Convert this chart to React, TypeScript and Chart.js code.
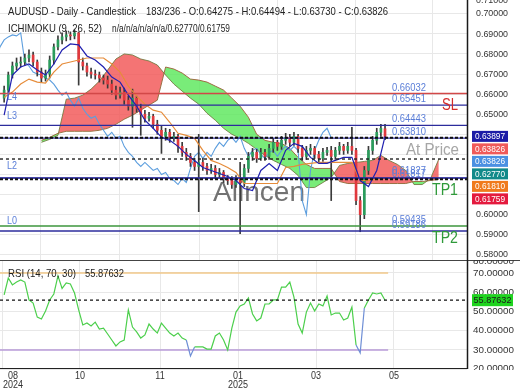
import React, { useEffect, useRef } from 'react';
import { Chart, registerables } from 'chart.js';

Chart.register(...registerables);

// ---------------- data ----------------
const VISIBLE_BARS = 225.6; // bars across the plot width
const CANDLE_FIRST_BAR = 2;
const CANDLE_STEP = 2;
const LINE_STEP = 4;
const CLOUD_FIRST_BAR = 20;
const ICHIMOKU_SHIFT = 26;

const monthTickBars = [1, 38.6, 77.3, 115, 152.7, 190.3];
const monthLabels = ['08', '10', '11', '01', '03', '05'];
const yearLabels = ['2024', '', '', '2025', '', ''];

const opens = [
  0.658, 0.662, 0.6695, 0.674, 0.6755, 0.676, 0.678, 0.6795, 0.676, 0.671,
  0.668, 0.670, 0.677, 0.6835, 0.687, 0.6885, 0.6895, 0.689, 0.6905, 0.676,
  0.674, 0.671, 0.670, 0.6695, 0.668, 0.667, 0.665, 0.662, 0.6595, 0.661,
  0.657, 0.654, 0.658, 0.653, 0.650, 0.648, 0.649, 0.645, 0.642, 0.639,
  0.641, 0.638, 0.639, 0.634, 0.631, 0.629, 0.626, 0.624, 0.626, 0.624,
  0.622, 0.623, 0.620, 0.621, 0.618, 0.617, 0.615, 0.618, 0.616, 0.623,
  0.629, 0.631, 0.628, 0.631, 0.629, 0.633, 0.636, 0.634, 0.637, 0.6385,
  0.636, 0.639, 0.633, 0.629, 0.632, 0.633, 0.630, 0.628, 0.631, 0.632,
  0.629, 0.632, 0.634, 0.632, 0.634, 0.632, 0.607, 0.600, 0.622, 0.632,
  0.637, 0.641, 0.64275,
];
const highs = [
  0.664, 0.671, 0.676, 0.678, 0.6785, 0.680, 0.682, 0.681, 0.677, 0.673,
  0.672, 0.679, 0.685, 0.689, 0.6905, 0.6915, 0.691, 0.692, 0.691, 0.678,
  0.6755, 0.673, 0.672, 0.671, 0.6695, 0.669, 0.667, 0.664, 0.6635, 0.663,
  0.659, 0.6625, 0.659, 0.655, 0.652, 0.651, 0.650, 0.647, 0.644, 0.643,
  0.6425, 0.641, 0.640, 0.636, 0.633, 0.6305, 0.628, 0.640, 0.628, 0.6255,
  0.625, 0.6245, 0.623, 0.622, 0.6195, 0.619, 0.6195, 0.626, 0.625, 0.631,
  0.633, 0.6325, 0.633, 0.6325, 0.635, 0.638, 0.637, 0.639, 0.6405, 0.640,
  0.641, 0.640, 0.6345, 0.634, 0.635, 0.634, 0.6315, 0.633, 0.6335, 0.634,
  0.6335, 0.636, 0.635, 0.636, 0.6435, 0.633, 0.609, 0.624, 0.634, 0.639,
  0.643, 0.645, 0.64494,
];
const lows = [
  0.656, 0.6605, 0.668, 0.672, 0.6735, 0.6745, 0.676, 0.674, 0.669, 0.666,
  0.6665, 0.668, 0.675, 0.682, 0.685, 0.6865, 0.687, 0.6875, 0.6645, 0.672,
  0.669, 0.668, 0.6675, 0.666, 0.665, 0.663, 0.660, 0.6575, 0.658, 0.655,
  0.652, 0.6435, 0.651, 0.6395, 0.646, 0.6465, 0.643, 0.640, 0.6305, 0.637,
  0.636, 0.6365, 0.631, 0.629, 0.627, 0.624, 0.622, 0.6015, 0.622, 0.620,
  0.6205, 0.618, 0.6185, 0.616, 0.615, 0.613, 0.6135, 0.5905, 0.614, 0.621,
  0.627, 0.626, 0.627, 0.627, 0.6275, 0.631, 0.632, 0.6325, 0.635, 0.634,
  0.6345, 0.631, 0.627, 0.6275, 0.630, 0.628, 0.626, 0.6265, 0.6295, 0.607,
  0.6275, 0.630, 0.630, 0.6305, 0.630, 0.605, 0.5915, 0.598, 0.620, 0.630,
  0.635, 0.639, 0.6373,
];
const closes = [
  0.662, 0.6695, 0.674, 0.6755, 0.676, 0.678, 0.6795, 0.676, 0.671, 0.668,
  0.670, 0.677, 0.6835, 0.687, 0.6885, 0.6895, 0.689, 0.6905, 0.676, 0.674,
  0.671, 0.670, 0.6695, 0.668, 0.667, 0.665, 0.662, 0.6595, 0.661, 0.657,
  0.654, 0.658, 0.653, 0.650, 0.648, 0.649, 0.645, 0.642, 0.639, 0.641,
  0.638, 0.639, 0.634, 0.631, 0.629, 0.626, 0.624, 0.626, 0.624, 0.622,
  0.623, 0.620, 0.621, 0.618, 0.617, 0.615, 0.618, 0.616, 0.623, 0.629,
  0.631, 0.628, 0.631, 0.629, 0.633, 0.636, 0.634, 0.637, 0.6385, 0.636,
  0.639, 0.633, 0.629, 0.632, 0.633, 0.630, 0.628, 0.631, 0.632, 0.629,
  0.632, 0.634, 0.632, 0.634, 0.632, 0.607, 0.600, 0.622, 0.632, 0.637,
  0.641, 0.643, 0.63826,
];
const tenkan = [
  0.6495, 0.6695, 0.6735, 0.675, 0.672, 0.6695, 0.675, 0.682, 0.685, 0.6845,
  0.679, 0.677, 0.6735, 0.6685, 0.666, 0.6595, 0.654, 0.647, 0.643, 0.6385,
  0.637, 0.634, 0.630, 0.627, 0.6235, 0.622, 0.6205, 0.619, 0.617, 0.613,
  0.612, 0.622, 0.6255, 0.622, 0.632, 0.6355, 0.634, 0.6285, 0.6255, 0.6255,
  0.627, 0.6285, 0.6285, 0.617, 0.614, 0.622, 0.63897,
];
const kijun = [
  0.6585, 0.661, 0.665, 0.6675, 0.666, 0.6655, 0.671, 0.675, 0.676, 0.677,
  0.678, 0.678, 0.678, 0.675, 0.671, 0.664, 0.659, 0.655, 0.652, 0.651,
  0.646, 0.6405, 0.6395, 0.638, 0.632, 0.627, 0.6255, 0.6235, 0.621, 0.6155,
  0.6155, 0.6155, 0.6155, 0.6155, 0.6235, 0.624, 0.625, 0.6255, 0.626, 0.626,
  0.626, 0.626, 0.626, 0.617, 0.617, 0.6175, 0.6181,
];
const senkouA = [
  0.636, 0.6375, 0.6395, 0.6575, 0.658, 0.6595, 0.6625, 0.6665, 0.672, 0.6775,
  0.680, 0.6795, 0.6775, 0.6765, 0.6745, 0.6695, 0.665, 0.6615, 0.658, 0.655,
  0.6505, 0.647, 0.643, 0.640, 0.638, 0.6355, 0.6325, 0.6295, 0.627, 0.625,
  0.623, 0.6195, 0.6135, 0.6135, 0.616, 0.6185, 0.6245, 0.6255, 0.626, 0.6265,
  0.627, 0.6295, 0.627, 0.625, 0.622, 0.615, 0.615, 0.618, 0.6277,
];
const senkouB = [
  0.637, 0.6385, 0.6405, 0.6415, 0.6415, 0.6415, 0.6415, 0.642, 0.643, 0.645,
  0.6475, 0.6495, 0.652, 0.6545, 0.657, 0.6735, 0.6725, 0.6705, 0.6675, 0.667,
  0.666, 0.664, 0.662, 0.658, 0.654, 0.6485, 0.640, 0.637, 0.636, 0.6355,
  0.633, 0.6285, 0.625, 0.623, 0.623, 0.623, 0.6165, 0.6155, 0.6155, 0.6155,
  0.6155, 0.6155, 0.6155, 0.6155, 0.6155, 0.6165, 0.6165, 0.617, 0.61759,
];
const rsiValues = [
  58.6, 67.4, 63.8, 65.3, 66.4, 65.3, 56.0, 54.4, 47.1, 46.1,
  50.3, 56.0, 59.1, 68.5, 62.0, 64.8, 64.3, 59.6, 50.8, 43.0,
  44.0, 42.5, 44.5, 40.9, 41.4, 38.3, 35.2, 32.1, 34.2, 35.2,
  50.8, 41.9, 39.4, 36.2, 37.8, 43.5, 40.9, 38.8, 44.0, 41.4,
  38.8, 37.3, 38.8, 36.2, 35.2, 26.9, 31.6, 31.6, 31.6, 30.5,
  30.5, 37.3, 38.8, 35.2, 30.0, 41.4, 49.7, 52.9, 53.9, 57.0,
  48.7, 45.1, 46.6, 53.9, 53.9, 56.0, 56.0, 62.7, 62.7, 65.3,
  57.5, 43.5, 38.8, 49.7, 54.4, 50.3, 53.9, 52.9, 58.0, 48.2,
  49.2, 49.2, 45.6, 46.6, 52.3, 32.6, 28.5, 51.8, 56.0, 59.6,
  59.1, 59.6, 55.87632,
];
const RSI_UPPER = 70;
const RSI_LOWER = 30;
const RSI_LAST = 55.87632;

const PRICE_MIN = 0.57742;
const PRICE_MAX = 0.70687;
const RSI_MIN = 20.65;
const RSI_MAX = 76.75;
const priceTicks = [0.58, 0.59, 0.6, 0.61, 0.62, 0.63, 0.64, 0.65, 0.66, 0.67, 0.68, 0.69, 0.7, 0.71];
const rsiTicks = [20, 30, 40, 50, 60, 70, 80];

const levelValues = [0.66032, 0.65451, 0.64443, 0.6381, 0.61827, 0.61817, 0.59435, 0.59186];
const levelColors = ['#d24848', '#2c2c9c', '#2c2c9c', '#2c2c9c', '#2c2c9c', '#2c2c9c', '#3c963c', '#2c2c9c'];
const levelLabelOffsets = [-5.5, -5.5, -6, -6, -6.5, -3.5, -6, -6];
const dottedValues = [0.63826, 0.6277, 0.61759];
const levelTagValues = [0.6584, 0.649, 0.624, 0.5965];
const levelTags = ['L4', 'L3', 'L2', 'L0'];

const boxValues = [0.63897, 0.63826, 0.63826, 0.6277, 0.6181, 0.61759];
const boxColors = ['#1c1ca6', '#f05a5a', '#4b90e2', '#128a8a', '#f07a1c', '#e41a3e'];

// ---------------- helpers ----------------
const FONT = '"Liberation Sans", Arial, Helvetica, sans-serif';
const GRID = '#e8e8e8';
const UP = '#2a9d5c';
const DOWN = '#e0393e';

function txt(ctx: CanvasRenderingContext2D, s: string, x: number, y: number, size: number, color: string,
  opts: { align?: 'left' | 'center' | 'right'; width?: number; sx?: number } = {}) {
  ctx.save();
  ctx.font = `${size}px ${FONT}`;
  ctx.fillStyle = color;
  ctx.textBaseline = 'middle';
  ctx.textAlign = 'left';
  const w = ctx.measureText(s).width;
  const sx = opts.width ? opts.width / w : (opts.sx ?? 0.9);
  const align = opts.align ?? 'left';
  let x0 = x;
  if (align === 'center') x0 = x - (w * sx) / 2;
  else if (align === 'right') x0 = x - w * sx;
  ctx.translate(x0, y);
  ctx.scale(sx, 1);
  ctx.fillText(s, 0, 0);
  ctx.restore();
}

function hline(ctx: CanvasRenderingContext2D, x1: number, x2: number, y: number, color: string, w: number, dash: number[] = []) {
  ctx.save();
  ctx.strokeStyle = color;
  ctx.lineWidth = w;
  ctx.setLineDash(dash);
  ctx.beginPath();
  ctx.moveTo(x1, y);
  ctx.lineTo(x2, y);
  ctx.stroke();
  ctx.restore();
}

function vline(ctx: CanvasRenderingContext2D, x: number, y1: number, y2: number, color: string, w: number) {
  ctx.save();
  ctx.strokeStyle = color;
  ctx.lineWidth = w;
  ctx.beginPath();
  ctx.moveTo(x, y1);
  ctx.lineTo(x, y2);
  ctx.stroke();
  ctx.restore();
}

const candleBar = (j: number) => CANDLE_FIRST_BAR + CANDLE_STEP * j;
const lineBar = (i: number) => CANDLE_FIRST_BAR + LINE_STEP * i;
const cloudBar = (i: number) => CLOUD_FIRST_BAR + LINE_STEP * i;
const LAST_BAR = candleBar(closes.length - 1);

const xScaleBase = {
  type: 'linear' as const,
  min: 0,
  max: VISIBLE_BARS,
  offset: false,
  border: { display: false },
  ticks: { display: false },
  grid: { color: GRID, drawTicks: false },
  afterBuildTicks: (s: any) => {
    s.ticks = monthTickBars.map((v) => ({ value: v }));
  },
};

// ---------------- plugins ----------------
const mainDeco = {
  id: 'mainDeco',
  beforeDatasetsDraw(chart: any) {
    txt(chart.ctx, 'Alincen', 213, 193, 28, '#727272', { width: 92 });
  },
  afterDatasetsDraw(chart: any) {
    const { ctx, chartArea: a, scales } = chart;
    const Y = (v: number) => scales.y.getPixelForValue(v);
    levelValues.forEach((v, i) => hline(ctx, a.left, a.right, Y(v), levelColors[i], 1.3));
    hline(ctx, a.left, a.right, Y(dottedValues[0]), '#111', 2, [3, 2]);
    hline(ctx, a.left, a.right, Y(dottedValues[1]), '#222', 1.4, [3, 3]);
    hline(ctx, a.left, a.right, Y(dottedValues[2]), '#111', 2, [3, 2]);
    levelValues.forEach((v, i) =>
      txt(ctx, v.toFixed(5), 392, Y(v) + levelLabelOffsets[i], 10, '#5a7ed8', { width: 34 })
    );
    levelTagValues.forEach((v, i) => txt(ctx, levelTags[i], 7, Y(v), 10, '#5a7ed8'));
    txt(ctx, 'SL', 442, 106, 16, '#d42c2c', { width: 16 });
    txt(ctx, 'At Price', 406, 151, 16, '#a6a6a6', { width: 53 });
    txt(ctx, 'TP1', 432, 191, 16, '#2f9a3a', { width: 26 });
    txt(ctx, 'TP2', 432, 239, 16, '#2f9a3a', { width: 26 });
  },
  afterDraw(chart: any) {
    const { ctx, chartArea: a, scales } = chart;
    const Y = (v: number) => scales.y.getPixelForValue(v);
    vline(ctx, a.right + 0.5, 0, chart.height, '#1a1a1a', 1.5);
    priceTicks.forEach((v) => {
      if (v > 0.605 && v < 0.645) return;
      const yy = Math.max(Y(v), 0);
      txt(ctx, v.toFixed(5), 476, yy, 9.5, '#333', { width: 32 });
    });
    let prev = -Infinity;
    boxValues.forEach((v, i) => {
      const yy = Math.max(Y(v), prev + 12.5);
      prev = yy;
      ctx.fillStyle = boxColors[i];
      ctx.fillRect(472, yy - 5.5, 36, 11);
      txt(ctx, v.toFixed(5), 490, yy, 9.5, '#fff', { width: 30, align: 'center' });
    });
    txt(ctx, 'AUDUSD - Daily - Candlestick', 8, 12, 11, '#222', { width: 128 });
    txt(ctx, '183/236 - O:0.64275 - H:0.64494 - L:0.63730 - C:0.63826', 146, 12, 11, '#222', { width: 242 });
    txt(ctx, 'ICHIMOKU (9, 26, 52)', 8, 29, 11, '#222', { width: 94 });
    txt(ctx, 'n/a/n/a/n/a/n/a/0.62770/0.61759', 112, 29, 11, '#222', { width: 118 });
  },
};

const rsiDeco = {
  id: 'rsiDeco',
  afterDatasetsDraw(chart: any) {
    const { ctx, chartArea: a, scales } = chart;
    hline(ctx, a.left, a.right, scales.y.getPixelForValue(RSI_LAST), '#111', 1.3, [3, 3]);
  },
  afterDraw(chart: any) {
    const { ctx, chartArea: a, scales } = chart;
    const Y = (v: number) => scales.y.getPixelForValue(v);
    hline(ctx, 0, chart.width, 0.5, '#444', 1);
    hline(ctx, a.left, a.right + 1, a.bottom + 0.5, '#222', 1);
    vline(ctx, a.right + 0.5, 0, a.bottom + 1, '#1a1a1a', 1.5);
    ctx.save();
    ctx.beginPath();
    ctx.rect(a.right + 2, 0, chart.width - a.right, a.bottom + 2);
    ctx.clip();
    rsiTicks.forEach((v) => {
      const yy = Math.min(Math.max(Y(v), 1), a.bottom);
      txt(ctx, v.toFixed(5), 473, yy, 9.5, '#333', { width: 41 });
    });
    ctx.restore();
    const ly = Y(RSI_LAST);
    ctx.fillStyle = '#1fd41f';
    ctx.fillRect(472, ly - 6, 41, 12);
    txt(ctx, RSI_LAST.toFixed(5), 492.5, ly, 9.5, '#1a1a1a', { width: 38, align: 'center' });
    txt(ctx, `RSI (14, ${RSI_UPPER}, ${RSI_LOWER})`, 8, 13.5, 11, '#222', { width: 68 });
    txt(ctx, RSI_LAST.toFixed(5), 85, 13.5, 11, '#222', { width: 39 });
    monthTickBars.forEach((b, i) => {
      const px = Math.max(scales.x.getPixelForValue(b), 13);
      txt(ctx, monthLabels[i], px, a.bottom + 8, 10, '#333', { align: 'center' });
      if (yearLabels[i]) txt(ctx, yearLabels[i], px, a.bottom + 17.5, 10, '#333', { align: 'center' });
    });
  },
};

// ---------------- component ----------------
export default function App() {
  const mainRef = useRef<HTMLCanvasElement>(null);
  const rsiRef = useRef<HTMLCanvasElement>(null);

  useEffect(() => {
    document.body.style.margin = '0';
    const line = (data: any[], color: string, width: number, order: number, extra: any = {}) => ({
      type: 'line',
      data,
      borderColor: color,
      borderWidth: width,
      pointRadius: 0,
      tension: 0,
      fill: false,
      order,
      ...extra,
    });

    const main = new Chart(mainRef.current as HTMLCanvasElement, {
      type: 'bar',
      data: {
        datasets: [
          line(senkouA.map((v, i) => ({ x: cloudBar(i), y: v })), 'rgba(110,120,60,0.85)', 1, 20, {
            fill: { target: 1, above: 'rgba(241,86,86,0.82)', below: 'rgba(92,232,92,0.82)' },
          }),
          line(senkouB.map((v, i) => ({ x: cloudBar(i), y: v })), 'rgba(150,100,55,0.9)', 1, 19),
          line(closes.map((v, j) => ({ x: candleBar(j) - ICHIMOKU_SHIFT, y: v })), '#5c9ede', 1.1, 15),
          {
            type: 'bar',
            data: closes.map((_, j) => ({ x: candleBar(j), y: [lows[j], highs[j]] })),
            backgroundColor: '#3a3a3a',
            barThickness: 1,
            grouped: false,
            order: 12,
          },
          {
            type: 'bar',
            data: closes.map((c, j) => ({ x: candleBar(j), y: [opens[j], c] })),
            backgroundColor: closes.map((c, j) => (c >= opens[j] ? UP : DOWN)),
            barThickness: 2,
            minBarLength: 1,
            grouped: false,
            order: 11,
          },
          line(kijun.map((v, i) => ({ x: lineBar(i), y: v })), '#e68c3a', 1.2, 8),
          line(tenkan.map((v, i) => ({ x: lineBar(i), y: v })), '#2020b0', 1.2, 7),
        ] as any,
      },
      options: {
        responsive: false,
        animation: false,
        devicePixelRatio: 1,
        events: [],
        layout: { autoPadding: false, padding: { left: 0, right: 53, top: 0, bottom: 0 } },
        plugins: { legend: { display: false }, tooltip: { enabled: false } },
        scales: {
          x: { ...xScaleBase, afterFit: (s: any) => { s.height = 0; } },
          y: {
            type: 'linear',
            position: 'right',
            min: PRICE_MIN,
            max: PRICE_MAX,
            border: { display: false },
            ticks: { display: false },
            grid: { color: GRID, drawTicks: false },
            afterBuildTicks: (s: any) => { s.ticks = priceTicks.map((v) => ({ value: v })); },
            afterFit: (s: any) => { s.width = 0; },
          },
        },
      } as any,
      plugins: [mainDeco],
    });

    const rsiChart = new Chart(rsiRef.current as HTMLCanvasElement, {
      type: 'line',
      data: {
        datasets: [
          {
            data: rsiValues.map((v, j) => ({ x: candleBar(j), y: v })),
            borderColor: '#4ccf4c',
            borderWidth: 1.2,
            pointRadius: 0,
            tension: 0,
            segment: {
              borderColor: (c: any) => (c.p0.parsed.y < RSI_LOWER || c.p1.parsed.y < RSI_LOWER ? '#6f8fd6' : '#4ccf4c'),
            },
            order: 1,
          },
          {
            data: [{ x: 0, y: RSI_UPPER }, { x: LAST_BAR + 1.5, y: RSI_UPPER }],
            borderColor: '#f2c88a',
            borderWidth: 1.6,
            pointRadius: 0,
            order: 3,
          },
          {
            data: [{ x: 0, y: RSI_LOWER }, { x: LAST_BAR + 1.5, y: RSI_LOWER }],
            borderColor: '#b99bd8',
            borderWidth: 1.6,
            pointRadius: 0,
            order: 3,
          },
        ] as any,
      },
      options: {
        responsive: false,
        animation: false,
        devicePixelRatio: 1,
        events: [],
        layout: { autoPadding: false, padding: { left: 0, right: 53, top: 0, bottom: 0 } },
        plugins: { legend: { display: false }, tooltip: { enabled: false } },
        scales: {
          x: { ...xScaleBase, afterFit: (s: any) => { s.height = 22; } },
          y: {
            type: 'linear',
            position: 'right',
            min: RSI_MIN,
            max: RSI_MAX,
            border: { display: false },
            ticks: { display: false },
            grid: { color: GRID, drawTicks: false },
            afterBuildTicks: (s: any) => { s.ticks = rsiTicks.map((v) => ({ value: v })); },
            afterFit: (s: any) => { s.width = 0; },
          },
        },
      } as any,
      plugins: [rsiDeco],
    });

    return () => {
      main.destroy();
      rsiChart.destroy();
    };
  }, []);

  return (
    <div style={{ position: 'fixed', left: 0, top: 0, width: 520, height: 390, background: '#fff' }}>
      <canvas ref={mainRef} width={520} height={260} style={{ display: 'block', width: 520, height: 260 }} />
      <canvas ref={rsiRef} width={520} height={130} style={{ display: 'block', width: 520, height: 130 }} />
    </div>
  );
}
